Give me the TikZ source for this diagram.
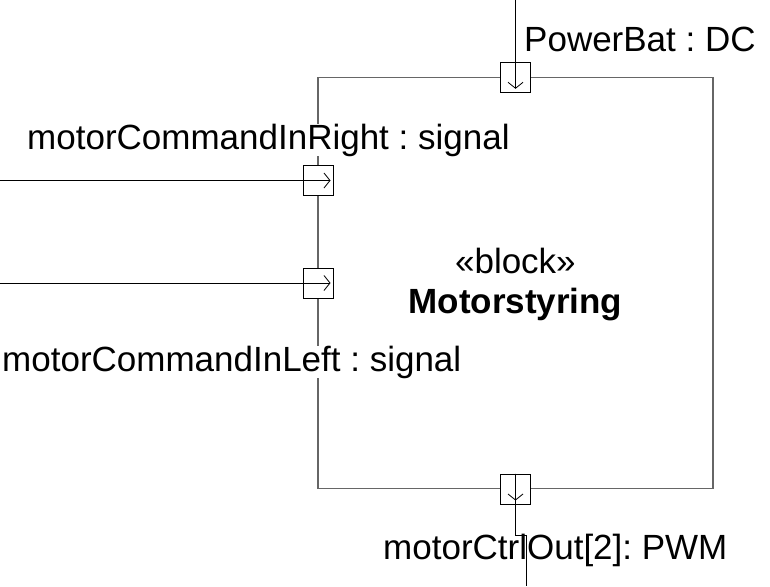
\documentclass[tikz,border=0pt]{standalone}
\usepackage{fontspec}
\setmainfont{Liberation Sans}
\usepackage{tikz}
\usetikzlibrary{arrows.meta}
\usetikzlibrary{positioning}
\frenchspacing
\tikzset{port/.style = {draw, fill = white, line width = 1pt, minimum size = 30pt, inner sep = 0}}
\tikzset{blockbox/.style = {draw = black!60, line width = 1.2pt, inner sep = 0, align = center}}
\tikzset{lbl/.style = {fill = white, inner sep = 0, anchor = base west}}
\tikzset{flow/.style = {line width = 1pt, -{Straight Barb[length = 6pt, width = 15pt, line width = 0.8pt]}}}
\tikzset{wire/.style = {line width = 1pt}}

\begin{document}
\begin{tikzpicture}[x = 1pt, y = -1pt, font = \fontsize{35}{40}\selectfont]
      \useasboundingbox (0, 0) rectangle (770, 586);

      \node [blockbox, minimum width = 395pt, minimum height = 411pt] (blk) at (515.4, 282.6) {};
      \node [align = center, inner sep = 0] (blkTitle) at (515.4, 284.5)
            {«block»\\\textbf{Motorstyring}};

      \node [lbl] (lblPow) at (524, 52) {PowerBat : DC};
      \node [lbl] (lblInR) at (27, 149) {motorCommandInRight : signal};
      \node [lbl] (lblInL) at (2, 371) {motorCommandInLeft : signal};
      \node [lbl] (lblOut) at (383, 559) {motorCtrlOut[2]: PWM};

      \node [port] (pTop) at (515.5, 77.3) {};
      \node [port] (pInR) at (318, 180.5) {};
      \node [port] (pInL) at (318, 283) {};
      \node [port] (pBot) at (515.5, 489) {};

      \coordinate (srcTop) at (515.5, 0);
      \coordinate (srcInR) at (0, 180.5);
      \coordinate (srcInL) at (0, 283);
      \coordinate (bendA) at (515.5, 535);
      \coordinate (bendB) at (526.7, 535);
      \coordinate (sinkBot) at (526.7, 586);

      \draw [flow] (srcTop) -- ([yshift = 4pt]pTop.south);
      \draw [flow] (srcInR) -- ([xshift = -3pt]pInR.east);
      \draw [flow] (srcInL) -- ([xshift = -3pt]pInL.east);
      \draw [flow] (pBot.north) -- ([yshift = 4pt]pBot.south);
      \draw [wire] (pBot.north) -- (bendA) -- (bendB) -- (sinkBot);
    \end{tikzpicture}
\end{document}
